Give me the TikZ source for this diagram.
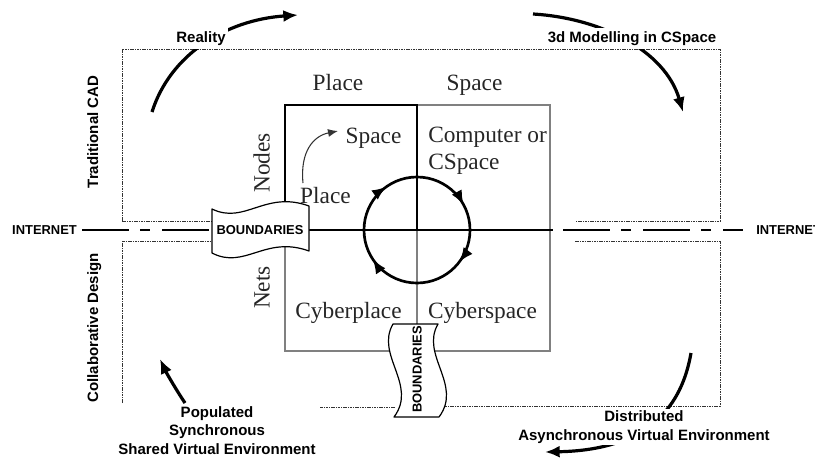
\documentclass[tikz,border=0pt]{standalone}
\usepackage{fontspec}
\setmainfont{Liberation Serif}
\newfontfamily\labelfont{Liberation Sans}
\usetikzlibrary{arrows.meta,decorations.markings}
\begin{document}
\begin{tikzpicture}[x=0.75pt,y=0.75pt,
  quadtext/.style={font=\fontsize{17.5}{21}\selectfont, text=black!85, inner sep=0pt},
  caption/.style={font=\labelfont\bfseries\fontsize{11.25}{13.9}\selectfont, fill=white, inner xsep=1.5pt, inner ysep=1pt, align=center},
  sidetitle/.style={font=\labelfont\bfseries\fontsize{11.25}{13.9}\selectfont, inner sep=0pt, rotate=90, anchor=base},
  minor/.style={font=\labelfont\bfseries\fontsize{9.7}{11}\selectfont, inner sep=0pt},
  cyclearrow/.style={line width=2.4pt, -{Latex[length=11pt,width=9pt]}},
  guide/.style={line width=0.55pt, black!80, dash pattern=on 1.2pt off 0.6pt},
  gridline/.style={line width=1.1pt, black!50},
  heavy/.style={line width=2pt, line cap=rect},
  netline/.style={line width=2.2pt, dash pattern=on 35.25pt off 8.25pt on 7.5pt off 9pt},
  banner/.style={draw, fill=white, line width=0.9pt, line join=round},
]
\useasboundingbox (0,0) rectangle (815,-458);
\clip (0,0) rectangle (815,-458);

% dotted frames of the upper and lower halves
\draw[guide] (122,-221) -- (122,-49) -- (720,-49) -- (720,-221) -- (575,-221);
\draw[guide] (122,-221) -- (212,-221);
\draw[guide] (122,-403) -- (122,-241) -- (212,-241);
\draw[guide] (575,-241) -- (720,-241) -- (720,-406) -- (445,-406);
\draw[guide] (395,-407) -- (320,-407);

% the internet line
\coordinate (netL0) at (82,-230);
\coordinate (netL1) at (212,-230);
\coordinate (netR0) at (563,-230);
\coordinate (netR1) at (743,-230);
\draw[netline] (netL0) -- (netL1);
\draw[netline] (netR0) -- (netR1);

% the four quadrants
\draw[gridline] (417,-105) -- (550,-105) -- (550,-351) -- (285,-351) -- (285,-230);
\draw[gridline] (417,-230) -- (417,-351);
\draw[heavy] (285,-230) -- (285,-105) -- (417,-105) -- (417,-230);
\draw[heavy] (285,-230) -- (552,-230);

% turning circle
\coordinate (centre) at (417,-230);
\draw[line width=2pt, postaction={decorate}, decoration={markings,
  mark=at position 0.078 with {\arrowreversed{Latex[length=11pt,width=8.5pt]}},
  mark=at position 0.347 with {\arrowreversed{Latex[length=11pt,width=8.5pt]}},
  mark=at position 0.592 with {\arrowreversed{Latex[length=11pt,width=8.5pt]}},
  mark=at position 0.896 with {\arrowreversed{Latex[length=11pt,width=8.5pt]}}}]
  (centre) circle[radius=53];

% boundary banners
\path[banner] (212,-209) .. controls (245,-225) and (265,-190) .. (309,-206)
  -- (309,-251) .. controls (265,-235) and (245,-270) .. (212,-253) -- cycle;
\node[minor] (bndH) at (260,-230) {BOUNDARIES};
\path[banner] (393,-324) -- (438,-324) .. controls (420,-355) and (463,-385) .. (439,-417)
  -- (394,-417) .. controls (418,-385) and (375,-355) .. (393,-324) -- cycle;
\node[minor, rotate=90, anchor=base] (bndV) at (421.5,-369.5) {BOUNDARIES};

\node[minor] (inetL) at (44.5,-230) {INTERNET};
\node[minor, anchor=west] (inetR) at (756,-230) {INTERNET};

% quadrant texts
\node[quadtext, anchor=base] (hplace) at (338,-90.5) {Place};
\node[quadtext, anchor=base] (hspace) at (474.5,-90.5) {Space};
\node[quadtext, anchor=base] (qspace) at (373.5,-143) {Space};
\node[quadtext, anchor=base] (qplace) at (325.5,-203) {Place};
\node[quadtext, anchor=base west] (comp) at (428,-142.5) {Computer or};
\node[quadtext, anchor=base west] (cspace) at (428,-169) {CSpace};
\node[quadtext, anchor=base] (cyplace) at (348.5,-318) {Cyberplace};
\node[quadtext, anchor=base] (cyspace) at (482.5,-318) {Cyberspace};
\node[quadtext, rotate=90, anchor=base] (nodes) at (269.5,-163) {Nodes};
\node[quadtext, rotate=90, anchor=base] (nets) at (269.5,-287.5) {Nets};

% from place to space
\coordinate (ps0) at (303,-183);
\coordinate (ps1) at (338,-131);
\draw[line width=0.8pt, black!80, -{Latex[length=7.5pt,width=6pt]}]
  (ps0) .. controls (300,-152) and (313,-136) .. (ps1);

\node[sidetitle] (trad) at (98,-132) {Traditional CAD};
\node[sidetitle] (collab) at (98,-328) {Collaborative Design};

% outer cycle of design practice
\coordinate (a0) at (152,-112);  \coordinate (a1) at (298,-15);
\coordinate (b0) at (533,-14);   \coordinate (b1) at (683,-112);
\coordinate (c0) at (691,-353);  \coordinate (c1) at (545,-452);
\coordinate (d0) at (185,-403);  \coordinate (d1) at (160,-359);
\draw[cyclearrow] (a0) .. controls (170,-55) and (225,-20) .. (a1);
\draw[cyclearrow] (b0) .. controls (600,-18) and (665,-50) .. (b1);
\draw[cyclearrow] (c0) .. controls (682,-405) and (650,-450) .. (c1);
\draw[cyclearrow] (d0) .. controls (175,-388) and (166,-372) .. (d1);

\node[caption, anchor=base, inner ysep=2.8pt] (reality) at (201,-42.3) {Reality};
\node[caption, anchor=base, inner ysep=2.8pt] (model) at (632,-42.3) {3d Modelling in CSpace};
\node[caption] (pop) at (217,-430.4) {Populated\\Synchronous\\Shared Virtual Environment};
\node[caption] (dist) at (644,-427) {Distributed\\Asynchronous Virtual Environment};
\end{tikzpicture}
\end{document}
